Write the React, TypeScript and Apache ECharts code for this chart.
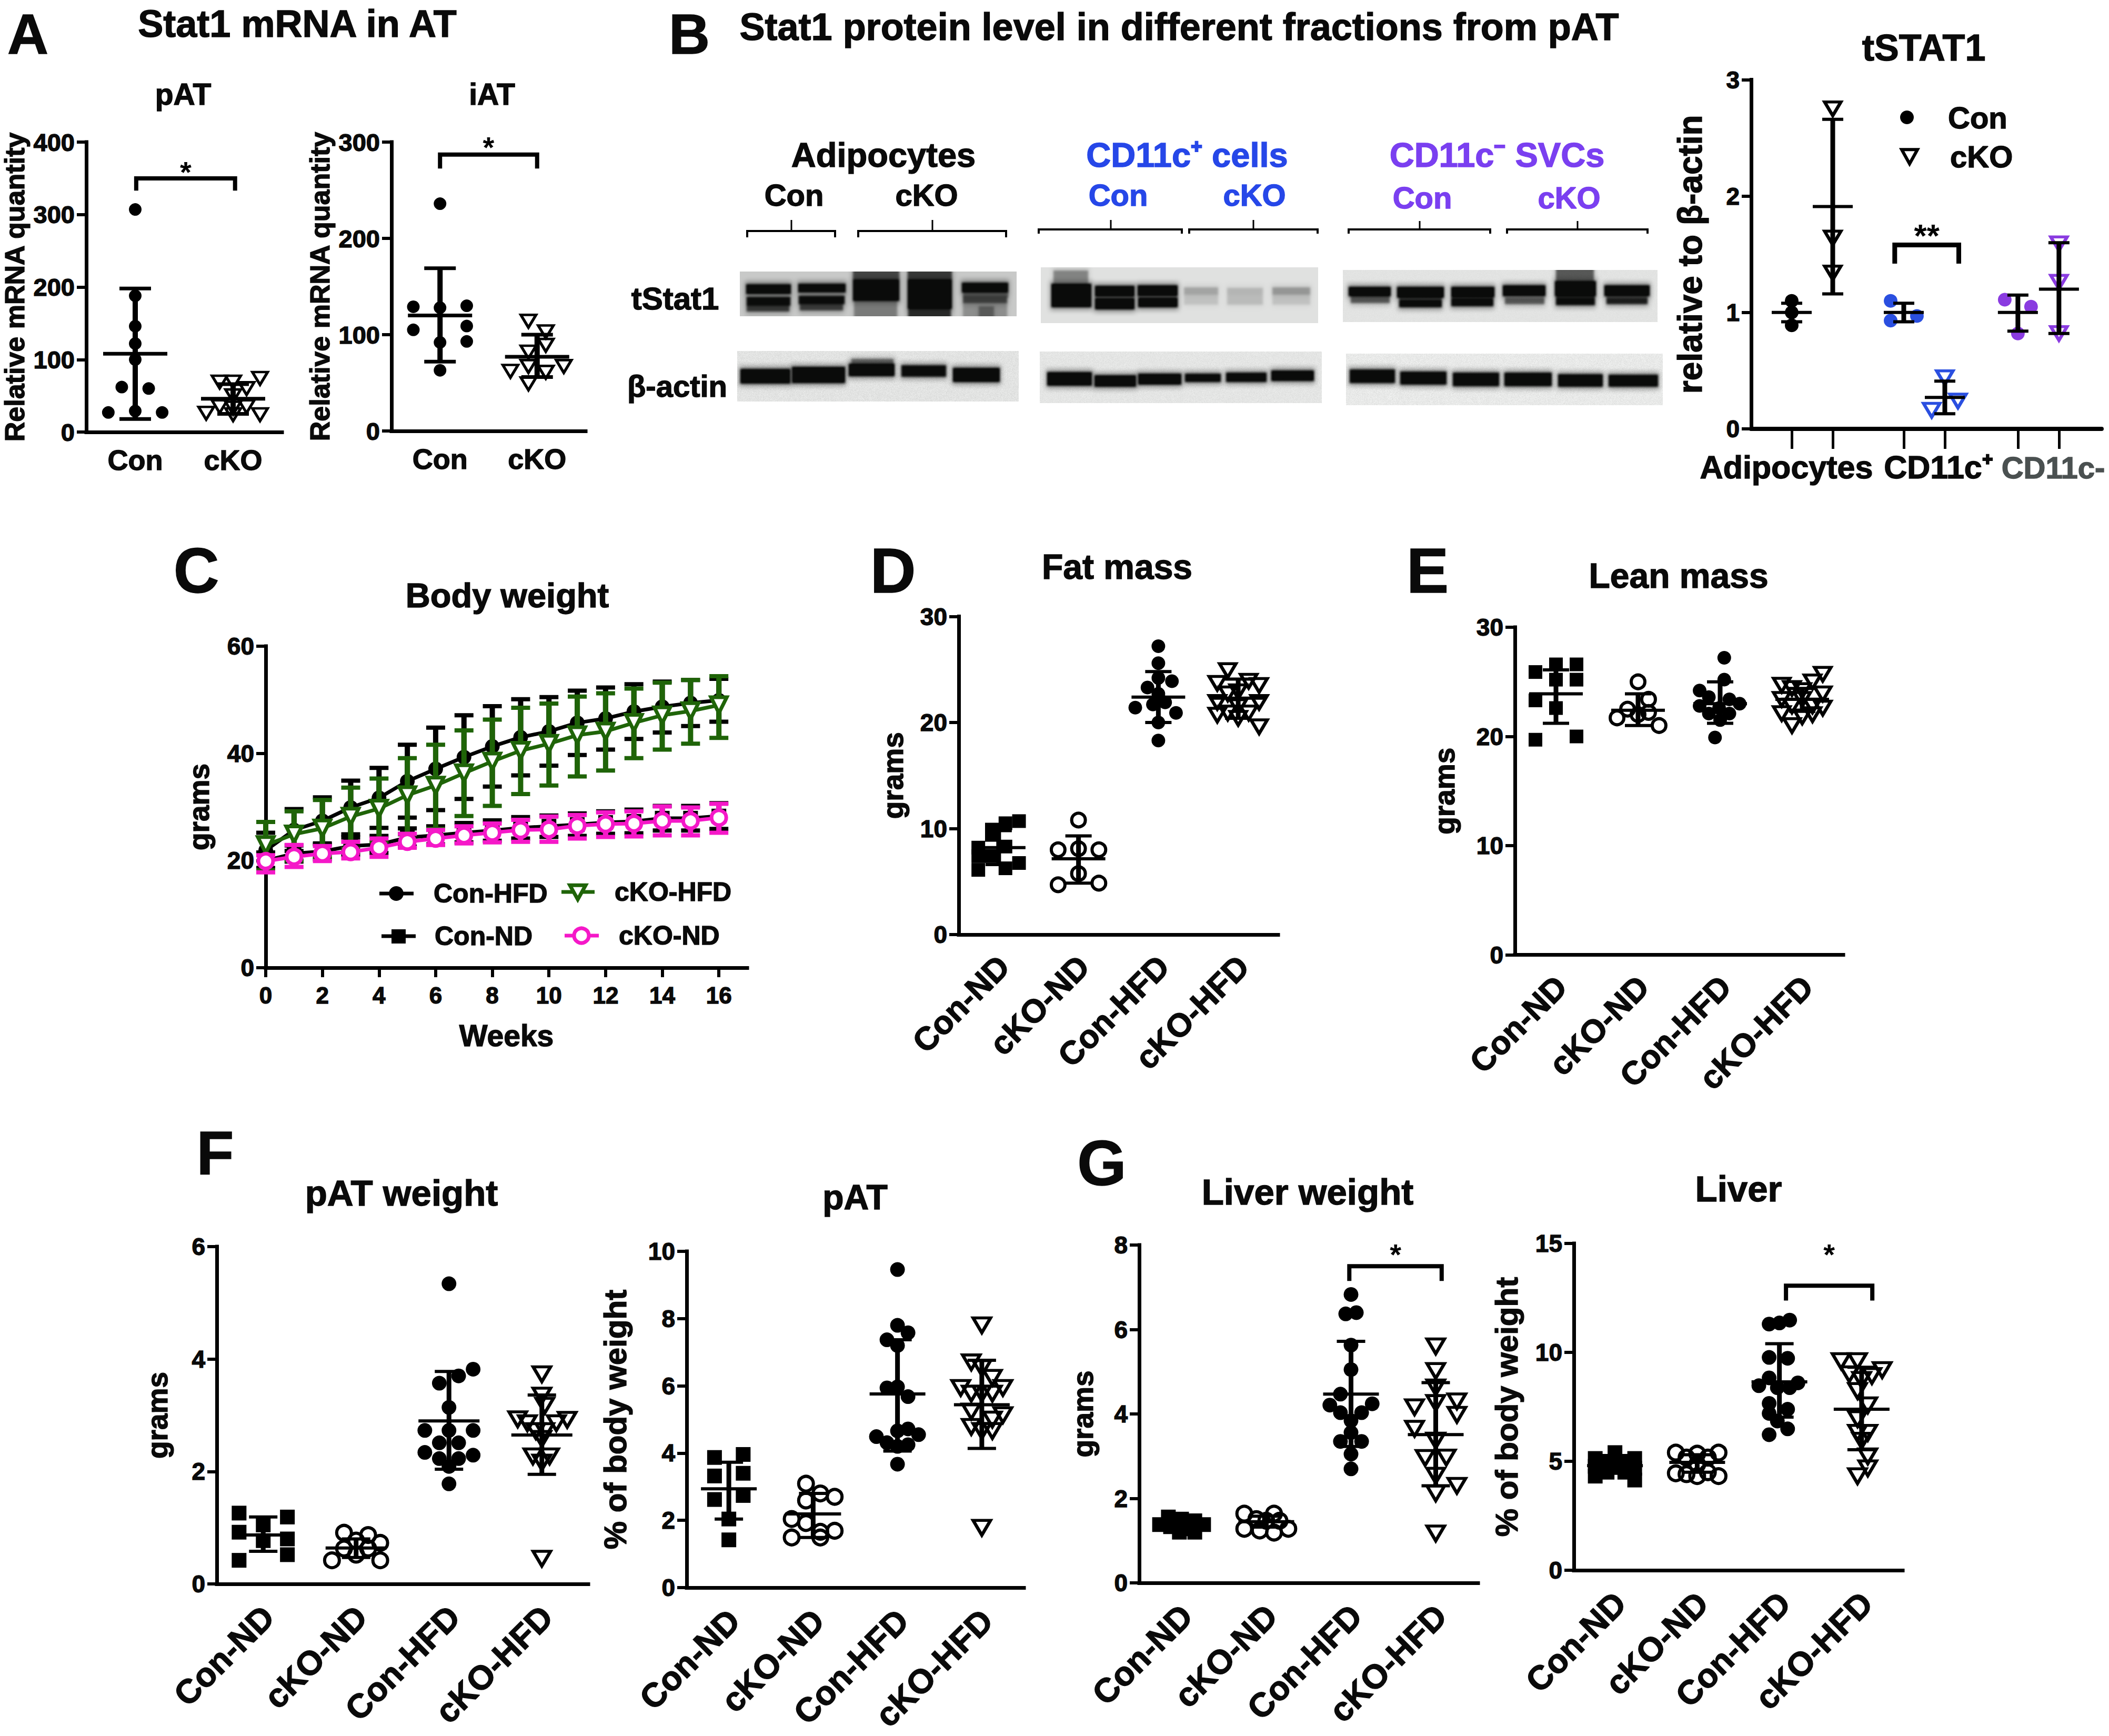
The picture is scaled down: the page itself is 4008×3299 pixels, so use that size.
import React, { useEffect, useRef } from "react";
import * as echarts from "echarts";

const FONT = '"Liberation Sans", Arial, sans-serif';
const GROUPS4 = ["Con-ND", "cKO-ND", "Con-HFD", "cKO-HFD"];
const GROUPS2 = ["Con", "cKO"];

// ---- A: Stat1 mRNA (values, swarm lanes, [mean, upper, lower])
const patCon = [307, 188, 146, 122, 100, 62, 60, 29, 27, 27];
const patConLanes = [0, 0, 0, 0, 0, -1, 1, 0, -2, 2];
const patConBar = [108, 198, 18];
const patKo = [74, 69, 69, 60, 50, 35, 33, 35, 26, 24, 24];
const patKoLanes = [2, -1, 0, 1, 0, -1, 0, 1, -2, 2, 0];
const patKoBar = [46, 66, 25];
const iatCon = [236, 129, 130, 128, 105, 109, 93, 92, 63];
const iatConLanes = [0, -2, 2, 0, -2, 2, 2, 0, 0];
const iatConBar = [120, 169, 72];
const iatKo = [114, 103, 89, 82, 67, 62, 67, 61, 49];
const iatKoLanes = [-0.65, 0.65, 0.65, -0.65, -0.65, -2, 2, 0.65, -0.65];
const iatKoBar = [77, 100, 56];

// ---- B: tSTAT1 quantification
const bAdipoCon = [1.1, 1.0, 0.89];
const bAdipoConBar = [1, 1.08, 0.92];
const bAdipoKo = [2.75, 1.64, 1.34];
const bAdipoKoBar = [1.91, 2.66, 1.16];
const bPosCon = [1.1, 0.93, 0.97];
const bPosConBar = [1, 1.08, 0.92];
const bPosKo = [0.44, 0.24, 0.16];
const bPosKoBar = [0.27, 0.41, 0.13];
const bNegCon = [1.11, 1.05, 0.82];
const bNegConBar = [1, 1.15, 0.84];
const bNegKo = [1.59, 1.26, 0.82];
const bNegKoBar = [1.2, 1.6, 0.82];
const bPositions = [0, 1, 2.73, 3.73, 5.51, 6.51];
const bOffsetsPosCon = [-0.32, -0.32, 0.32];
const bOffsetsPosKo = [0, 0.32, -0.32];
const bOffsetsNegCon = [-0.32, 0.32, 0];

// ---- C: body weight
const weeks = [0, 1, 2, 3, 4, 5, 6, 7, 8, 9, 10, 11, 12, 13, 14, 15, 16];
const conHfdMean = [21.9, 25.7, 27.4, 29.9, 31.7, 34.8, 37.1, 39.3, 41.3, 43.0, 44.1, 45.7, 46.5, 47.8, 48.7, 49.4, 49.9];
const conHfdUp = [25.2, 29.6, 31.8, 34.9, 37.3, 41.6, 44.8, 47.1, 48.8, 50.1, 50.5, 51.7, 52.3, 52.9, 53.4, 53.7, 53.9];
const conHfdLow = [18.6, 21.8, 23, 24.9, 26.1, 28, 29.4, 31.5, 33.8, 35.9, 37.7, 39.7, 40.7, 42.7, 43.9, 45.1, 45.9];
const koHfdMean = [22.9, 24.9, 26, 28.2, 29.7, 32.2, 34, 36.3, 38.5, 40.5, 41.8, 43.4, 44.1, 45.7, 47.1, 47.9, 49];
const koHfdUp = [27.2, 29.2, 31.3, 33.6, 35.3, 39.1, 41.6, 44.3, 46.3, 48.5, 49.3, 50.6, 51.2, 52.1, 53.2, 53.7, 54.4];
const koHfdLow = [18.2, 20, 20.7, 22.2, 23.5, 24.9, 25.9, 28.3, 30.2, 32.4, 34, 35.7, 36.8, 39.1, 40.7, 41.8, 42.9];
const conNdMean = [20, 21.3, 21.7, 22.7, 23, 24.3, 24.7, 25.2, 25.6, 26.1, 26.4, 26.7, 27.1, 27.3, 27.9, 27.9, 28.3];
const conNdUp = [21.5, 22.8, 23.2, 24.3, 24.6, 26, 26.4, 27, 27.5, 28.1, 28.4, 28.8, 29.2, 29.5, 30.2, 30.2, 30.7];
const conNdLow = [18.5, 19.8, 20.2, 21.1, 21.4, 22.6, 23, 23.4, 23.7, 24.1, 24.4, 24.6, 25, 25.1, 25.6, 25.6, 25.9];
const koNdMean = [19.9, 20.7, 21.3, 21.6, 22.4, 23.5, 24.1, 24.7, 25.2, 25.7, 25.8, 26.5, 26.8, 26.9, 27.4, 27.4, 28];
const koNdUp = [21, 22.9, 22.7, 23.5, 24.1, 25, 25.7, 26.4, 26.9, 27.6, 28.2, 28.5, 29, 29.2, 30.1, 29.9, 30.6];
const koNdLow = [17.8, 18.8, 19.9, 20.4, 20.7, 22.4, 22.9, 23.2, 23.4, 23.5, 23.5, 24.1, 24.4, 24.5, 24.7, 24.7, 25.2];

// ---- D: fat mass
const fatConNd = [10.7, 10.5, 9.9, 9.4, 8.2, 8.3, 7.4, 7.4, 6.75, 6.25, 6.1];
const fatConNdLanes = [1.5, 0.5, -0.5, -0.5, -1.5, 0.5, -0.5, -1.5, 1.5, 0.5, -1.5];
const fatConNdBar = [8.2, 9.8, 6.6];
const fatKoNd = [10.8, 8, 8.1, 8, 5.75, 4.7, 4.85];
const fatKoNdLanes = [0, -1.5, 0, 1.5, 0, -1.5, 1.5];
const fatKoNdBar = [7.15, 9.3, 4.85];
const fatConHfd = [27.2, 25.6, 24.2, 23.9, 23.3, 22.7, 21.7, 21.4, 20.9, 20, 18.3, 21.9];
const fatConHfdLanes = [0, 0, 0, 1, -0.8, 0, -0.4, -1.7, 1.3, 0, 0, 0.5];
const fatConHfdBar = [22.4, 24.8, 20];
const fatKoHfd = [24.9, 23.7, 22.7, 23.9, 23.5, 22.9, 21.9, 21.9, 21.5, 20.9, 20.9, 20.7, 19.6, 20.4];
const fatKoHfdLanes = [-1, -2, -1, 1, 2, 0, 2, -2, 0, -1, 1, -2, 2, 0];
const fatKoHfdBar = [22.3, 24.1, 20.4];

// ---- E: lean mass
const leanConNd = [19.7, 20, 22.6, 23.3, 25.2, 25.2, 25.9, 26.6, 26.6];
const leanConNdLanes = [-2, 2, 0, -2, 0, 2, -2, 0, 2];
const leanConNdBar = [23.9, 26.1, 21.2];
const leanKoNd = [25, 23.4, 22.5, 22, 21.7, 22.2, 21];
const leanKoNdLanes = [0, 1, -1, 0, -2, 1, 2];
const leanKoNdBar = [22.4, 23.9, 21];
const leanConHfd = [27.2, 25.2, 24.2, 23.6, 22.8, 23.4, 23, 22.6, 22.1, 22.1, 19.9, 21.5];
const leanConHfdLanes = [0.4, 0.4, -2, -1.1, -2, 0.9, 1.9, -0.1, -1.1, 0.9, -0.5, 0];
const leanConHfdBar = [23, 25, 21.2];
const leanKoHfd = [25.7, 25, 24.7, 24.4, 24.2, 23.9, 23.4, 23.4, 22.8, 22.6, 22.8, 22, 21.8, 21, 22.1];
const leanKoHfdLanes = [2, 1, -2, -1, 0, 2, -2, 0, 1, 2, -1, 1, 0, -1, -2];
const leanKoHfdBar = [23.4, 24.4, 22.3];

// ---- F: pAT weight and percent
const fwConNd = [1.26, 1.19, 1.05, 0.92, 0.8, 0.77, 0.52, 0.42];
const fwConNdLanes = [-1, 1, 0, -1, 1, 0, 1, -1];
const fwConNdBar = [0.87, 1.19, 0.58];
const fwKoNd = [0.91, 0.87, 0.77, 0.73, 0.63, 0.63, 0.52, 0.42, 0.42];
const fwKoNdLanes = [-0.5, 0.5, 0, 1, -0.5, 0.5, 0, -1, 1];
const fwKoNdBar = [0.64, 0.8, 0.47];
const fwConHfd = [5.34, 3.82, 3.7, 3.57, 3.14, 2.73, 2.73, 2.73, 2.51, 2.51, 2.34, 2.29, 2.23, 2.23, 2.09, 1.78];
const fwConHfdLanes = [0, 1, 0.4, -0.4, 0, -1, 0, 1, -0.4, 0.4, -1, 1, -0.4, 0.4, 0, 0];
const fwConHfdBar = [2.9, 3.78, 2.04];
const fwKoHfd = [3.73, 3.35, 3.17, 2.93, 2.86, 2.92, 2.86, 2.72, 2.72, 2.58, 2.27, 2.27, 2.16, 0.45];
const fwKoHfdLanes = [0, 0, 0.12, -1, -0.6, 1.05, 0.6, -0.25, 0.12, 0, -0.37, 0.32, 0, 0];
const fwKoHfdBar = [2.65, 3.36, 1.95];
const fpConNd = [3.96, 3.87, 3.32, 3.4, 2.62, 2.74, 2.04, 1.42];
const fpConNdLanes = [1, -1, -1, 1, -1, 1, 0, 0];
const fpConNdBar = [2.94, 3.73, 2.04];
const fpKoNd = [3.09, 2.8, 2.7, 2.59, 2.04, 1.92, 1.66, 1.69, 1.49, 1.49];
const fpKoNdLanes = [-0.5, 0.5, 1.5, -0.5, -1.5, -0.5, 0.5, 1.5, -1.5, 0.5];
const fpKoNdBar = [2.19, 2.8, 1.49];
const fpConHfd = [9.46, 7.8, 7.58, 7.37, 7.2, 5.97, 5.94, 5.68, 4.72, 4.66, 4.49, 4.55, 4.31, 4.25, 4.2, 3.67];
const fpConHfdLanes = [0, 0, 0.5, -0.5, 0, 0, -0.5, 0.5, 0.5, 0, -1, 1, -0.5, 0.5, 0, 0];
const fpConHfdBar = [5.76, 7.37, 4.06];
const fpKoHfd = [7.8, 6.7, 6.53, 6.24, 5.94, 5.94, 5.77, 5.77, 5.77, 5.24, 5.13, 5.0, 4.78, 4.66, 4.66, 1.78];
const fpKoHfdLanes = [0, -0.5, 0, 0.5, -1, 1, -0.5, 0.5, 0, -0.5, 1, 0.5, -0.5, 0, 0.5, 0];
const fpKoHfdBar = [5.44, 6.76, 4.14];

// ---- G: liver weight and percent
const lwConNd = [1.56, 1.51, 1.47, 1.38, 1.38, 1.33, 1.28, 1.2, 1.2];
const lwConNdLanes = [-0.6, 0, 0.6, -1, 1, -0.5, 0, 0.6, -0.1];
const lwConNdBar = [1.4, 1.52, 1.28];
const lwKoNd = [1.64, 1.64, 1.51, 1.47, 1.47, 1.28, 1.24, 1.19, 1.28];
const lwKoNdLanes = [-1, 0.35, -0.45, 0.6, 0, -1, -0.3, 0.35, 1];
const lwKoNdBar = [1.45, 1.58, 1.32];
const lwConHfd = [6.83, 6.37, 6.4, 5.63, 5.05, 4.47, 4.21, 4.24, 4.03, 4.03, 3.84, 3.56, 3.35, 3.35, 3.05, 2.7];
const lwConHfdLanes = [0, -0.25, 0.25, 0, 0, -0.5, -1, 1, -0.5, 0.5, 0, 0, -0.5, 0.5, 0, 0];
const lwConHfdBar = [4.47, 5.72, 3.23];
const lwKoHfd = [5.6, 5.02, 4.3, 4.63, 4.16, 4.26, 3.98, 3.65, 3.37, 2.96, 2.97, 2.54, 2.3, 2.12, 1.17];
const lwKoHfdLanes = [0, 0, 1, 0, -1, 0, 1, -1, 0, -0.5, 0.5, 0, 1, 0, 0];
const lwKoHfdBar = [3.51, 4.74, 2.3];
const lpConNd = [5.4, 5.13, 5.13, 5, 5, 4.77, 4.77, 4.68, 4.32, 4.5, 4.5, 4.14];
const lpConNdLanes = [0, -1, 1, -0.4, 0.5, 0, -1, 1, -1, -0.4, 0.5, 1];
const lpConNdBar = [4.8, 5.15, 4.45];
const lpKoNd = [5.4, 5.35, 5.4, 5.17, 5.17, 4.86, 4.45, 4.41, 4.5, 4.32, 4.32];
const lpKoNdLanes = [-1, 0, 1, -0.5, 0.5, 0, -1, -0.5, 0.5, 1, 0];
const lpKoNdBar = [4.95, 5.3, 4.5];
const lpConHfd = [11.48, 11.3, 11.35, 9.77, 9.73, 8.83, 8.6, 8.47, 8.38, 8.38, 7.66, 7.39, 7.2, 6.85, 6.49, 6.22];
const lpConHfdLanes = [0.5, -0.5, 0, -0.5, 0.4, -0.5, 0.9, -1, -0.1, 0.5, -0.5, 0.4, -0.5, -0.1, 0.4, -0.5];
const lpConHfdBar = [8.65, 10.4, 7.03];
const lpKoHfd = [9.6, 9.6, 9.19, 9, 8.92, 8.74, 8.23, 7.57, 6.94, 6.31, 6.31, 5.95, 5.23, 4.68, 4.32];
const lpKoHfdLanes = [-1, -0.2, 1, -0.6, 0.5, 0, -0.2, 0.3, -0.2, -0.2, 0.3, 0, 0.3, 0.3, -0.2];
const lpKoHfdBar = [7.39, 9.32, 5.53];

// ---- Western blot sketches: lane rectangles [x0, x1, y0, y1, darkness]
const blotTopAdipo = [[80, 315, 160, 205, 0.97], [85, 312, 232, 270, 0.92], [85, 305, 270, 305, 0.62], [358, 605, 155, 195, 0.97], [362, 600, 225, 262, 0.92], [366, 590, 262, 298, 0.6], [650, 890, 80, 130, 0.55], [650, 890, 130, 245, 0.97], [655, 880, 245, 338, 0.3], [940, 1170, 80, 130, 0.62], [940, 1170, 130, 290, 1], [945, 1165, 290, 338, 0.7], [1230, 1470, 150, 195, 0.97], [1235, 1470, 195, 225, 0.42], [1235, 1465, 225, 255, 0.6], [1235, 1465, 255, 338, 0.22], [1320, 1395, 285, 338, 0.45]];
const blotActinAdipo = [[50, 310, 645, 720, 1], [325, 600, 635, 715, 1], [625, 865, 615, 675, 1], [640, 860, 590, 620, 0.45], [905, 1140, 625, 680, 0.92], [1180, 1425, 640, 710, 1]];
const blotTopPos = [[120, 300, 80, 155, 0.32], [108, 315, 155, 215, 1], [108, 315, 222, 280, 1], [340, 545, 168, 220, 1], [340, 545, 238, 290, 1], [568, 775, 165, 215, 1], [570, 775, 235, 280, 1], [815, 990, 175, 205, 0.2], [815, 990, 205, 265, 0.1], [1045, 1230, 180, 205, 0.14], [1045, 1230, 205, 265, 0.12], [1285, 1480, 175, 205, 0.25], [1285, 1480, 205, 265, 0.1]];
const blotActinPos = [[88, 320, 665, 732, 1], [340, 555, 682, 738, 1], [570, 795, 672, 725, 1], [820, 1005, 672, 710, 0.95], [1040, 1250, 668, 710, 0.95], [1280, 1500, 655, 705, 1]];
const blotTopNeg = [[60, 255, 172, 215, 1], [70, 250, 225, 255, 0.5], [290, 505, 172, 225, 1], [300, 495, 225, 250, 0.6], [300, 495, 250, 280, 0.95], [545, 745, 172, 220, 1], [545, 740, 220, 240, 0.55], [545, 740, 240, 272, 0.95], [790, 985, 165, 215, 1], [800, 980, 235, 262, 0.5], [1040, 1215, 70, 140, 0.5], [1035, 1225, 140, 215, 1], [1040, 1220, 215, 238, 0.7], [1040, 1220, 238, 268, 0.92], [1270, 1480, 165, 215, 1], [1280, 1470, 215, 238, 0.45], [1280, 1470, 238, 262, 0.8]];
const blotActinNeg = [[65, 275, 650, 715, 0.95], [305, 518, 660, 725, 0.95], [552, 768, 668, 735, 0.95], [798, 1015, 668, 735, 0.97], [1050, 1258, 675, 738, 0.97], [1290, 1518, 678, 738, 0.95]];

type Mark = "circle" | "square" | "open" | "tri";

function boxBlur(src: Float32Array, w: number, h: number, r: number, passes: number) {
  let a = src;
  const norm = 2 * r + 1;
  for (let p = 0; p < passes; p++) {
    const b = new Float32Array(w * h);
    for (let y = 0; y < h; y++) {
      for (let x = 0; x < w; x++) {
        let s = 0;
        for (let d = -r; d <= r; d++) s += a[y * w + Math.min(w - 1, Math.max(0, x + d))];
        b[y * w + x] = s / norm;
      }
    }
    const c = new Float32Array(w * h);
    for (let y = 0; y < h; y++) {
      for (let x = 0; x < w; x++) {
        let s = 0;
        for (let d = -r; d <= r; d++) s += b[Math.min(h - 1, Math.max(0, y + d)) * w + x];
        c[y * w + x] = s / norm;
      }
    }
    a = c;
  }
  return a;
}

function makeBlot(bg: number, bands: number[][], fx0: number, fy0: number, fx1: number, fy1: number, sx: number, sy: number, grain: number) {
  const w = Math.round((fx1 - fx0) / sx);
  const h = Math.round((fy1 - fy0) / sy);
  const core = new Float32Array(w * h);
  const halo = new Float32Array(w * h);
  const paint = (arr: Float32Array, b: number[], ex: number, ey: number, k: number) => {
    const xa = Math.max(0, Math.round((b[0] - fx0) / sx - ex));
    const xb = Math.min(w, Math.round((b[1] - fx0) / sx + ex));
    const ya = Math.max(0, Math.round((b[2] - fy0) / sy - ey));
    const yb = Math.min(h, Math.round((b[3] - fy0) / sy + ey));
    for (let y = ya; y < yb; y++) for (let x = xa; x < xb; x++) arr[y * w + x] = Math.max(arr[y * w + x], b[4] * k);
  };
  for (const b of bands) {
    paint(core, b, 1, 2, 1);
    paint(halo, b, 3, 7, 0.42);
  }
  const cb = boxBlur(core, w, h, 2, 2);
  const hb = boxBlur(halo, w, h, 5, 2);
  const c = document.createElement("canvas");
  c.width = w;
  c.height = h;
  const ctx = c.getContext("2d") as CanvasRenderingContext2D;
  const img = ctx.createImageData(w, h);
  for (let y = 0; y < h; y++) {
    for (let x = 0; x < w; x++) {
      const i = y * w + x;
      const dark = 1 - (1 - Math.min(1, cb[i] * 1.1)) * (1 - hb[i]);
      const s = Math.sin(x * 12.9898 + y * 78.233) * 43758.5453;
      const g = 10 + (bg + (s - Math.floor(s) - 0.5) * grain - 10) * (1 - dark);
      const k = i * 4;
      img.data[k] = g;
      img.data[k + 1] = g + 1;
      img.data[k + 2] = g;
      img.data[k + 3] = 255;
    }
  }
  ctx.putImageData(img, 0, 0);
  return c.toDataURL("image/png");
}

function App() {
  const ref = useRef<HTMLDivElement>(null);
  useEffect(() => {
    const chart = echarts.init(ref.current as HTMLDivElement, undefined, { renderer: "svg" });
    const grid: any[] = [];
    const xAxis: any[] = [];
    const yAxis: any[] = [];
    const series: any[] = [];
    const title: any[] = [];
    const INK = "#0a0a0a";
    const heavy = { textBorderColor: INK, textBorderWidth: 1.4 };

    const addTitle = (text: string, cx: number, cy: number, size: number) => {
      title.push({ text, left: cx, top: cy - size * 0.6, textAlign: "center", textStyle: { fontFamily: FONT, fontWeight: "bold", fontSize: size, color: INK, lineHeight: size * 1.2, ...heavy }, padding: 0 });
    };

    const markStyle = (m: Mark, color: string, size: number, bw: number) => {
      if (m === "circle") return { symbol: "circle", symbolSize: size, itemStyle: { color, borderWidth: 0, opacity: 1 } };
      if (m === "square") return { symbol: "rect", symbolSize: size, itemStyle: { color, borderWidth: 0, opacity: 1 } };
      if (m === "open") return { symbol: "circle", symbolSize: size, itemStyle: { color: "transparent", borderColor: color, borderWidth: bw, opacity: 1 } };
      return { symbol: "triangle", symbolRotate: 180, symbolSize: [size + 5, size], itemStyle: { color: "transparent", borderColor: color, borderWidth: bw, opacity: 1 } };
    };

    const errRender = (half: number, cap: number, w: number, color: string) => (_: any, api: any) => {
      const x = api.value(0);
      const pm = api.coord([x, api.value(1)]);
      const pu = api.coord([x, api.value(2)]);
      const pl = api.coord([x, api.value(3)]);
      const seg = (x1: number, y1: number, x2: number, y2: number, lw: number) => ({ type: "line", shape: { x1, y1, x2, y2 }, style: { stroke: color, lineWidth: lw } });
      return {
        type: "group",
        children: [
          seg(pu[0], pu[1], pl[0], pl[1], w + 3),
          seg(pu[0] - cap, pu[1], pu[0] + cap, pu[1], w),
          seg(pl[0] - cap, pl[1], pl[0] + cap, pl[1], w),
          seg(pm[0] - half, pm[1], pm[0] + half, pm[1], w),
        ],
      };
    };

    const bracketRender = (w: number, starSize: number) => (_: any, api: any) => {
      const a = api.coord([api.value(0), api.value(2)]);
      const b = api.coord([api.value(1), api.value(3)]);
      const s = api.coord([(api.value(0) + api.value(1)) / 2, api.value(4)]);
      return {
        type: "group",
        children: [
          { type: "polyline", shape: { points: [[a[0], b[1]], [a[0], a[1]], [b[0], a[1]], [b[0], b[1]]] }, style: { stroke: "#000", lineWidth: w, fill: "none" } },
          { type: "text", x: s[0], y: s[1], style: { text: api.value(5) === 2 ? "**" : "*", font: `bold ${starSize}px ${FONT}`, fill: "#000", align: "center", verticalAlign: "middle" } },
        ],
      };
    };

    const addGrid = (l: number, r: number, t: number, b: number) => {
      grid.push({ left: l, top: t, width: r - l, height: b - t, show: false });
      return grid.length - 1;
    };

    const yAxisFor = (gi: number, max: number, interval: number, name: string, gap: number, nameSize: number, labelSize: number, aw: number) => {
      yAxis.push({
        gridIndex: gi, type: "value", min: 0, max, interval, name, nameLocation: "middle", nameGap: gap,
        nameTextStyle: { fontFamily: FONT, fontWeight: "bold", fontSize: nameSize, color: INK, ...heavy },
        splitLine: { show: false },
        axisLine: { show: true, onZero: false, lineStyle: { color: "#000", width: aw, cap: "square" } },
        axisTick: { show: true, length: 18, lineStyle: { color: "#000", width: aw - 1 } },
        axisLabel: { fontFamily: FONT, fontWeight: "bold", fontSize: labelSize, color: INK, margin: 22, ...heavy },
      });
    };

    const dotPanel = (p: any) => {
      const [l, r, t, b] = p.box;
      const gi = addGrid(l, r, t, b);
      const n = p.cats.length;
      const aw = 7;
      xAxis.push({
        gridIndex: gi, type: "category", data: p.cats, boundaryGap: true,
        axisLine: { onZero: false, lineStyle: { color: "#000", width: aw, cap: "square" } },
        axisTick: { alignWithLabel: true, length: 18, lineStyle: { color: "#000", width: aw - 1 } },
        axisLabel: { interval: 0, rotate: p.rotate ?? 0, margin: p.catMargin ?? 38, padding: p.rotate ? [0, -14, 0, 0] : 0, fontFamily: FONT, fontWeight: "bold", fontSize: p.catSize ?? 58, color: INK, ...heavy },
      });
      xAxis.push({ gridIndex: gi, type: "value", min: -0.5, max: n - 0.5, show: false });
      const hidden = xAxis.length - 1;
      yAxisFor(gi, p.yMax, p.yInt, p.yName, p.nameGap, p.nameSize ?? 55, p.labelSize ?? 46, aw);
      p.groups.forEach((g: any, i: number) => {
        const pts = g.vals.map((v: number, k: number) => [i + g.lanes[k] * g.step, v]);
        series.push({ type: "scatter", name: `${p.id} ${p.cats[i]}`, xAxisIndex: hidden, yAxisIndex: gi, data: pts, ...markStyle(g.mark, "#000", p.size ?? 25, p.bw ?? 6), z: 3 });
        series.push({ type: "custom", name: `${p.id} ${p.cats[i]} mean±SD`, xAxisIndex: hidden, yAxisIndex: gi, data: [[i, ...g.bar]], encode: { x: 0, y: 1 }, renderItem: errRender(p.half ?? 55, p.cap ?? 26, p.barW ?? 6, "#000"), z: 4 });
      });
      if (p.bracket) {
        series.push({ type: "custom", name: `${p.id} significance`, xAxisIndex: hidden, yAxisIndex: gi, data: [[...p.bracket, 1]], encode: { x: 0, y: 2 }, renderItem: bracketRender(p.brW ?? 8, p.starSize ?? 56), z: 5 });
      }
    };

    // Panel A
    dotPanel({ id: "pAT mRNA", box: [164, 536, 270, 821], cats: GROUPS2, yMax: 400, yInt: 100, yName: "Relative mRNA quantity", nameGap: 110, nameSize: 52, labelSize: 47, catSize: 54, catMargin: 26, size: 24, bw: 5, half: 61, cap: 30, barW: 7,
      groups: [
        { vals: patCon, lanes: patConLanes, step: 0.1375, mark: "circle", bar: patConBar },
        { vals: patKo, lanes: patKoLanes, step: 0.1375, mark: "tri", bar: patKoBar },
      ], bracket: [0.01, 1.02, 350, 333, 359] });
    dotPanel({ id: "iAT mRNA", box: [744, 1113, 270, 819], cats: GROUPS2, yMax: 300, yInt: 100, yName: "Relative mRNA quantity", nameGap: 110, nameSize: 52, labelSize: 47, catSize: 54, catMargin: 26, size: 24, bw: 5, half: 61, cap: 30, barW: 7,
      groups: [
        { vals: iatCon, lanes: iatConLanes, step: 0.1375, mark: "circle", bar: iatConBar },
        { vals: iatKo, lanes: iatKoLanes, step: 0.1375, mark: "tri", bar: iatKoBar },
      ], bracket: [0, 1, 287, 272.6, 295] });
    addTitle("Stat1 mRNA in AT", 565, 45, 72);
    addTitle("pAT", 348, 179, 57);
    addTitle("iAT", 935, 179, 57);

    // Panel B plot
    const bg = addGrid(3328, 3994, 151.5, 815);
    xAxis.push({
      gridIndex: bg, type: "value", min: -0.987, max: 7.55,
      splitLine: { show: false },
      axisLine: { onZero: false, lineStyle: { color: "#000", width: 8 } },
      axisTick: { length: 38, customValues: bPositions, lineStyle: { color: "#000", width: 5 } },
      axisLabel: { show: false },
    });
    const bX = xAxis.length - 1;
    yAxisFor(bg, 3, 1, "relative to β-actin", 84, 64, 46, 7);
    const bBlue = "#2a4fe0";
    const bPurple = "#8a3be0";
    const bGroups: any[] = [
      { vals: bAdipoCon, off: [0, 0, 0], bar: bAdipoConBar, mark: "circle", color: "#000" },
      { vals: bAdipoKo, off: [0, 0, 0], bar: bAdipoKoBar, mark: "tri", color: "#000" },
      { vals: bPosCon, off: bOffsetsPosCon, bar: bPosConBar, mark: "circle", color: bBlue },
      { vals: bPosKo, off: bOffsetsPosKo, bar: bPosKoBar, mark: "tri", color: bBlue },
      { vals: bNegCon, off: bOffsetsNegCon, bar: bNegConBar, mark: "circle", color: bPurple },
      { vals: bNegKo, off: [0, 0, 0], bar: bNegKoBar, mark: "tri", color: bPurple },
    ];
    bGroups.forEach((g, i) => {
      const x = bPositions[i];
      series.push({ type: "scatter", xAxisIndex: bX, yAxisIndex: bg, data: g.vals.map((v: number, k: number) => [x + g.off[k], v]), ...markStyle(g.mark, g.color, 26, 6), z: 3 });
      series.push({ type: "custom", xAxisIndex: bX, yAxisIndex: bg, data: [[x, ...g.bar]], encode: { x: 0, y: 1 }, renderItem: errRender(38, 20, 6, "#000"), z: 4 });
    });
    series.push({ type: "custom", xAxisIndex: bX, yAxisIndex: bg, data: [[2.51, 4.07, 1.58, 1.42, 1.66, 2]], encode: { x: 0, y: 2 }, renderItem: bracketRender(9, 62), z: 5 });
    addTitle("tSTAT1", 3656, 91, 70);

    // Panel C
    const cg = addGrid(505, 1420, 1228, 1839);
    xAxis.push({
      gridIndex: cg, type: "value", min: 0, max: 17, name: "Weeks", nameLocation: "middle", nameGap: 100,
      nameTextStyle: { fontFamily: FONT, fontWeight: "bold", fontSize: 57, color: INK, ...heavy },
      splitLine: { show: false },
      axisLine: { onZero: false, lineStyle: { color: "#000", width: 7, cap: "square" } },
      axisTick: { length: 18, customValues: [0, 2, 4, 6, 8, 10, 12, 14, 16], lineStyle: { color: "#000", width: 6 } },
      axisLabel: { customValues: [0, 2, 4, 6, 8, 10, 12, 14, 16], fontFamily: FONT, fontWeight: "bold", fontSize: 44, color: INK, margin: 30, ...heavy },
    });
    const cX = xAxis.length - 1;
    yAxisFor(cg, 60, 20, "grams", 100, 55, 46, 7);
    const cGreen = "#1f6408";
    const cPink = "#f518c8";
    const cSeries: any[] = [
      { name: "Con-HFD", mean: conHfdMean, up: conHfdUp, low: conHfdLow, color: "#000", sym: "circle", fill: "#000" },
      { name: "Con-ND", mean: conNdMean, up: conNdUp, low: conNdLow, color: "#000", sym: "rect", fill: "#000" },
      { name: "cKO-HFD", mean: koHfdMean, up: koHfdUp, low: koHfdLow, color: cGreen, sym: "triangle", fill: "#fff" },
      { name: "cKO-ND", mean: koNdMean, up: koNdUp, low: koNdLow, color: cPink, sym: "circle", fill: "#fff" },
    ];
    cSeries.forEach((s, i) => {
      const capRender = (_: any, api: any) => {
        const x = api.value(0);
        const pu = api.coord([x, api.value(1)]);
        const pl = api.coord([x, api.value(2)]);
        const seg = (x1: number, y1: number, x2: number, y2: number, lw: number) => ({ type: "line", shape: { x1, y1, x2, y2 }, style: { stroke: s.color, lineWidth: lw } });
        return { type: "group", children: [seg(pu[0], pu[1], pl[0], pl[1], 10), seg(pu[0] - 18, pu[1], pu[0] + 18, pu[1], 8), seg(pl[0] - 18, pl[1], pl[0] + 18, pl[1], 8)] };
      };
      series.push({ type: "custom", name: `${s.name} SD`, xAxisIndex: cX, yAxisIndex: cg, data: weeks.map((w, k) => [w, s.up[k], s.low[k]]), encode: { x: 0, y: 1 }, renderItem: capRender, z: 3 + i * 2 });
      series.push({
        type: "line", name: s.name, xAxisIndex: cX, yAxisIndex: cg, data: weeks.map((w, k) => [w, s.mean[k]]), smooth: false,
        lineStyle: { color: s.color, width: 7 }, symbol: s.sym, symbolSize: s.sym === "triangle" ? 30 : 28, symbolRotate: s.sym === "triangle" ? 180 : 0,
        itemStyle: { color: s.fill, borderColor: s.color, borderWidth: s.fill === "#fff" ? 7 : 0 }, z: 4 + i * 2,
      });
    });
    addTitle("Body weight", 964, 1131, 65);

    // Panel D & E
    dotPanel({ id: "Fat mass", box: [1822, 2429, 1171.5, 1776], cats: GROUPS4, rotate: 45, catSize: 62, catMargin: 60, yMax: 30, yInt: 10, yName: "grams", nameGap: 98, size: 26, half: 51, cap: 25, barW: 6,
      groups: [
        { vals: fatConNd, lanes: fatConNdLanes, step: 0.17, mark: "square", bar: fatConNdBar },
        { vals: fatKoNd, lanes: fatKoNdLanes, step: 0.17, mark: "open", bar: fatKoNdBar },
        { vals: fatConHfd, lanes: fatConHfdLanes, step: 0.17, mark: "circle", bar: fatConHfdBar },
        { vals: fatKoHfd, lanes: fatKoHfdLanes, step: 0.131, mark: "tri", bar: fatKoHfdBar },
      ] });
    addTitle("Fat mass", 2123, 1077, 66);
    dotPanel({ id: "Lean mass", box: [2879, 3503, 1192, 1814.5], cats: GROUPS4, rotate: 45, catSize: 62, catMargin: 60, yMax: 30, yInt: 10, yName: "grams", nameGap: 107, size: 26, half: 51, cap: 25, barW: 6,
      groups: [
        { vals: leanConNd, lanes: leanConNdLanes, step: 0.125, mark: "square", bar: leanConNdBar },
        { vals: leanKoNd, lanes: leanKoNdLanes, step: 0.128, mark: "open", bar: leanKoNdBar },
        { vals: leanConHfd, lanes: leanConHfdLanes, step: 0.125, mark: "circle", bar: leanConHfdBar },
        { vals: leanKoHfd, lanes: leanKoHfdLanes, step: 0.125, mark: "tri", bar: leanKoHfdBar },
      ] });
    addTitle("Lean mass", 3190, 1094, 66);

    // Panel F
    dotPanel({ id: "pAT weight", box: [412, 1118, 2369, 3010], cats: GROUPS4, rotate: 45, catSize: 64, catMargin: 62, yMax: 6, yInt: 2, yName: "grams", nameGap: 86, size: 28, half: 58, cap: 27, barW: 6,
      groups: [
        { vals: fwConNd, lanes: fwConNdLanes, step: 0.26, mark: "square", bar: fwConNdBar },
        { vals: fwKoNd, lanes: fwKoNdLanes, step: 0.26, mark: "open", bar: fwKoNdBar },
        { vals: fwConHfd, lanes: fwConHfdLanes, step: 0.26, mark: "circle", bar: fwConHfdBar },
        { vals: fwKoHfd, lanes: fwKoHfdLanes, step: 0.26, mark: "tri", bar: fwKoHfdBar },
      ] });
    addTitle("pAT weight", 763, 2268, 69);
    dotPanel({ id: "pAT percent", box: [1305, 1946, 2378, 3017], cats: GROUPS4, rotate: 45, catSize: 64, catMargin: 62, yMax: 10, yInt: 2, yName: "% of body weight", nameGap: 106, nameSize: 60, size: 28, half: 53, cap: 27, barW: 6,
      groups: [
        { vals: fpConNd, lanes: fpConNdLanes, step: 0.17, mark: "square", bar: fpConNdBar },
        { vals: fpKoNd, lanes: fpKoNdLanes, step: 0.17, mark: "open", bar: fpKoNdBar },
        { vals: fpConHfd, lanes: fpConHfdLanes, step: 0.25, mark: "circle", bar: fpConHfdBar },
        { vals: fpKoHfd, lanes: fpKoHfdLanes, step: 0.25, mark: "tri", bar: fpKoHfdBar },
      ] });
    addTitle("pAT", 1625, 2275, 66);

    // Panel G
    dotPanel({ id: "Liver weight", box: [2165, 2809, 2366, 3008], cats: GROUPS4, rotate: 45, catSize: 64, catMargin: 62, yMax: 8, yInt: 2, yName: "grams", nameGap: 80, size: 28, half: 53, cap: 27, barW: 6,
      groups: [
        { vals: lwConNd, lanes: lwConNdLanes, step: 0.26, mark: "square", bar: lwConNdBar },
        { vals: lwKoNd, lanes: lwKoNdLanes, step: 0.26, mark: "open", bar: lwKoNdBar },
        { vals: lwConHfd, lanes: lwConHfdLanes, step: 0.25, mark: "circle", bar: lwConHfdBar },
        { vals: lwKoHfd, lanes: lwKoHfdLanes, step: 0.25, mark: "tri", bar: lwKoHfdBar },
      ], bracket: [1.98, 3.07, 7.5, 7.15, 7.78] });
    addTitle("Liver weight", 2485, 2266, 69);
    dotPanel({ id: "Liver percent", box: [2991, 3616, 2363, 2984], cats: GROUPS4, rotate: 45, catSize: 64, catMargin: 62, yMax: 15, yInt: 5, yName: "% of body weight", nameGap: 98, nameSize: 60, size: 28, half: 53, cap: 27, barW: 6,
      groups: [
        { vals: lpConNd, lanes: lpConNdLanes, step: 0.24, mark: "square", bar: lpConNdBar },
        { vals: lpKoNd, lanes: lpKoNdLanes, step: 0.26, mark: "open", bar: lpKoNdBar },
        { vals: lpConHfd, lanes: lpConHfdLanes, step: 0.25, mark: "circle", bar: lpConHfdBar },
        { vals: lpKoHfd, lanes: lpKoHfdLanes, step: 0.25, mark: "tri", bar: lpKoHfdBar },
      ], bracket: [2.08, 3.13, 13.06, 12.38, 14.5] });
    addTitle("Liver", 3304, 2260, 69);

    // Graphic parts: panel letters, blots, bracket annotations, legends
    const txt = (text: string, x: number, y: number, size: number, color = INK, align = "center") => ({
      type: "text", x, y, style: { text, font: `bold ${size}px ${FONT}`, fill: color, align, verticalAlign: "middle", stroke: color, lineWidth: 1.4 },
    });
    const poly = (points: number[][], w: number, color = "#000") => ({ type: "polyline", shape: { points }, style: { stroke: color, lineWidth: w, fill: "none" } });
    const tri = (cx: number, cy: number, s: number, color: string, fill = "none", w = 5) => ({
      type: "polygon", shape: { points: [[cx - s, cy - s * 0.85], [cx + s, cy - s * 0.85], [cx, cy + s * 0.95]] }, style: { stroke: color, lineWidth: w, fill },
    });

    const blotImage = (bgc: number, bands: number[][], fx0: number, fy0: number, fx1: number, fy1: number, sx: number, sy: number, x: number, y: number, grain: number) => ({
      type: "image", x, y, style: { image: makeBlot(bgc, bands, fx0, fy0, fx1, fy1, sx, sy, grain), width: Math.round((fx1 - fx0) / sx), height: Math.round((fy1 - fy0) / sy) },
    });

    const lineBrace = (x0: number, x1: number, y: number, down: number, cx: number, up: number) => [
      poly([[x0, down], [x0, y], [x1, y], [x1, down]], 4),
      poly([[cx, y], [cx, up]], 3),
    ];

    const elements: any[] = [
      blotImage(200, blotTopAdipo, 45, 80, 1518, 338, 2.8, 3.03, 1406, 516, 0),
      blotImage(226, blotActinAdipo, 30, 537, 1528, 828, 2.8, 3.03, 1401, 667, 18),
      blotImage(224, blotTopPos, 50, 55, 1525, 375, 2.8, 3.03, 1978, 508, 0),
      blotImage(228, blotActinPos, 45, 540, 1545, 838, 2.8, 3.03, 1976, 668, 14),
      blotImage(226, blotTopNeg, 30, 70, 1518, 370, 2.49, 3.03, 2552, 513, 6),
      blotImage(232, blotActinNeg, 45, 552, 1545, 848, 2.49, 3.03, 2558, 672, 18),
      ...lineBrace(1420, 1587, 439, 451, 1504, 418),
      ...lineBrace(1631, 1912, 439, 451, 1772, 418),
      ...lineBrace(1974, 2246, 436, 444, 2111, 418),
      ...lineBrace(2260, 2504, 436, 444, 2382, 418),
      ...lineBrace(2563, 2832, 436, 444, 2698, 420),
      ...lineBrace(2864, 3131, 436, 444, 2998, 420),
      txt("A", 53, 64, 108),
      txt("B", 1310, 64, 108),
      txt("C", 373, 1084, 120),
      txt("D", 1697, 1084, 120),
      txt("E", 2713, 1084, 120),
      txt("F", 409, 2192, 116),
      txt("G", 2094, 2210, 120),
      txt("Stat1 protein level in different fractions from pAT", 2241, 51, 72),
      txt("Adipocytes", 1679, 294, 65),
      txt("CD11c⁺ cells", 2256, 294, 65, "#2647e8"),
      txt("CD11c⁻ SVCs", 2845, 294, 65, "#7a3ff0"),
      txt("Con", 1509, 370, 58),
      txt("cKO", 1761, 370, 58),
      txt("Con", 2125, 370, 58, "#2647e8"),
      txt("cKO", 2384, 370, 58, "#2647e8"),
      txt("Con", 2703, 375, 58, "#7a3ff0"),
      txt("cKO", 2982, 375, 58, "#7a3ff0"),
      txt("tStat1", 1283, 567, 60),
      txt("β-actin", 1287, 733, 58),
      txt("Adipocytes", 3395, 888, 61),
      txt("CD11c⁺", 3684, 888, 61),
      txt("CD11c-", 3902, 888, 58, "#4a5050"),
      { type: "circle", shape: { cx: 3624, cy: 223, r: 13 }, style: { fill: "#000" } },
      tri(3629, 297, 15, "#000", "none", 6),
      txt("Con", 3702, 223, 58, INK, "left"),
      txt("cKO", 3706, 297, 58, INK, "left"),
      // C legend
      poly([[721, 1698], [786, 1698]], 7),
      { type: "circle", shape: { cx: 753, cy: 1698, r: 14 }, style: { fill: "#000" } },
      txt("Con-HFD", 824, 1698, 50, INK, "left"),
      poly([[725, 1779], [790, 1779]], 7),
      { type: "rect", shape: { x: 744, y: 1766, width: 27, height: 27 }, style: { fill: "#000" } },
      txt("Con-ND", 826, 1779, 50, INK, "left"),
      poly([[1067, 1695], [1130, 1695]], 7, "#1f6408"),
      tri(1098, 1695, 15, "#1f6408", "#fff", 7),
      txt("cKO-HFD", 1168, 1695, 50, INK, "left"),
      poly([[1073, 1778], [1138, 1778]], 7, "#f518c8"),
      { type: "circle", shape: { cx: 1105, cy: 1778, r: 14 }, style: { fill: "#fff", stroke: "#f518c8", lineWidth: 7 } },
      txt("cKO-ND", 1176, 1778, 50, INK, "left"),
    ];

    chart.setOption({
      animation: false,
      backgroundColor: "#fff",
      title,
      grid,
      xAxis,
      yAxis,
      series,
      graphic: { elements },
    });
    return () => chart.dispose();
  }, []);
  return <div ref={ref} style={{ position: "absolute", left: 0, top: 0, width: 4008, height: 3299 }} />;
}

export default App;
